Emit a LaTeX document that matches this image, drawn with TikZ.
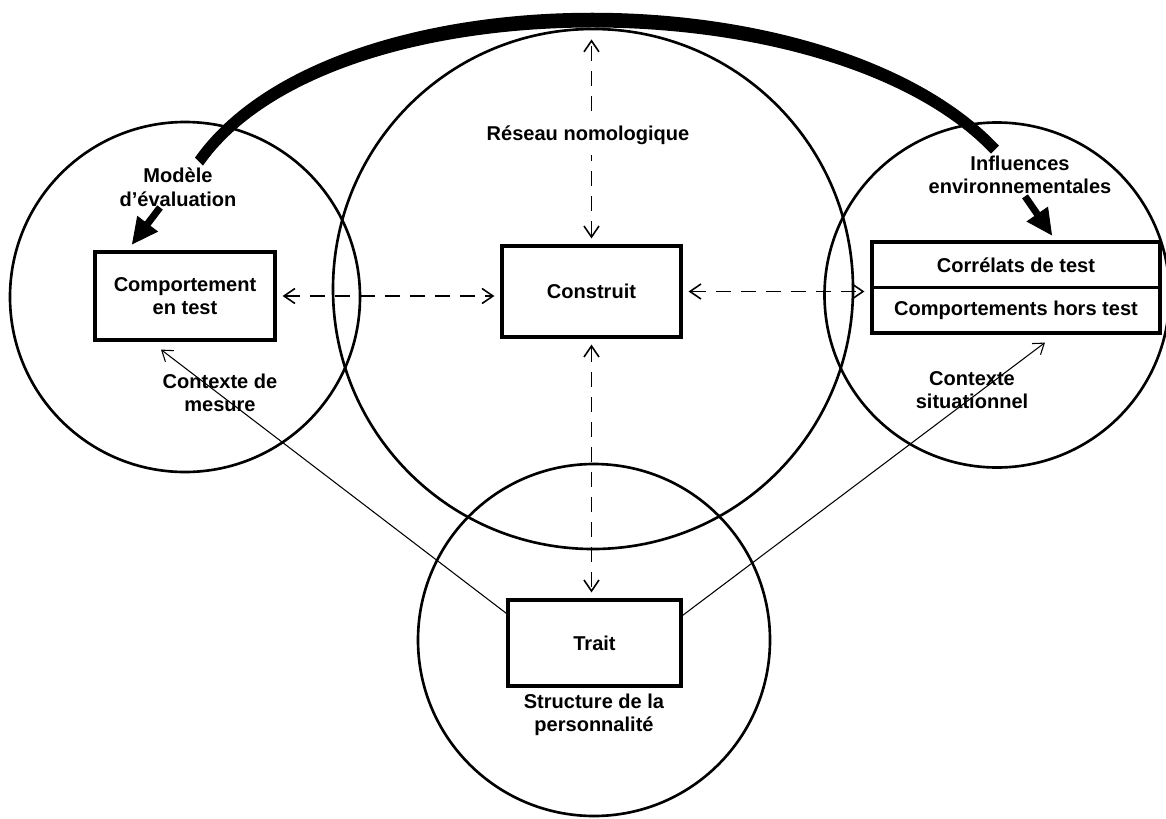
\documentclass[tikz,border=0pt]{standalone}
\usepackage{fontspec}
\setmainfont{Liberation Sans}
\usetikzlibrary{arrows.meta, positioning, calc}

\begin{document}
\begin{tikzpicture}[
    every node/.style={font=\bfseries\fontsize{11.4}{13.4}\selectfont, align=center},
    zone/.style={circle, draw, line width=1.5pt, minimum size=#1, inner sep=0pt},
    box/.style={draw, line width=1.8pt, inner sep=0pt},
    link/.style={line width=0.9pt, dash pattern=on 0.3cm off 0.2cm,
        {Straight Barb[length=0.22cm,width=0.3cm]}-{Straight Barb[length=0.22cm,width=0.3cm]},
        shorten <=0.12cm, shorten >=0.12cm},
    cue/.style={line width=0.6pt, -{Straight Barb[length=0.2cm,width=0.28cm]}},
    heavy/.style={line width=0.14cm, -{Triangle[length=0.52cm,width=0.52cm,line width=0.5pt]}}
]
    \useasboundingbox (0,0) rectangle (23.32,-16.36);

    % Circles
    \node[zone=7cm] (cleft) at (3.70,-5.94) {};
    \node[zone=10.4cm] (ccenter) at (11.86,-5.78) {};
    \node[zone=6.9cm] (cright) at (19.94,-5.90) {};
    \node[zone=7.04cm] (cbottom) at (11.88,-12.80) {};

    % Boxes
    \node[box, minimum width=3.6cm, minimum height=1.76cm] (comport) at (3.70,-5.92) {Comportement\\en test};
    \node[box, minimum width=3.58cm, minimum height=1.82cm] (construit) at (11.83,-5.83) {Construit};
    \node[box, minimum width=5.76cm, minimum height=0.91cm] (correlats) at (20.32,-5.295) {Corrélats de test};
    \node[box, minimum width=5.76cm, minimum height=0.91cm] (hors) at (20.32,-6.205) {Comportements hors test};
    \node[box, minimum width=3.46cm, minimum height=1.72cm] (trait) at (11.89,-12.86) {Trait};

    % Labels
    \node (modele) at (3.56,-3.74) {Modèle\\d'évaluation};
    \node (influences) at (20.40,-3.50) {Influences\\environnementales};
    \node (mesure) at (4.40,-7.86) {Contexte de\\mesure};
    \node (situation) at (19.44,-7.80) {Contexte\\situationnel};
    \node (structure) at (11.88,-14.30) {Structure de la\\personnalité};

    % Dashed links around the construct
    \coordinate (apex) at ($(construit.north)+(0,4.22)$);
    \draw[link] (construit.north) -- (apex);
    \node[fill=white, inner xsep=2pt, inner ysep=0.22cm] (reseau) at (11.76,-2.70) {Réseau nomologique};
    \draw[link] (comport.east) -- (construit.west |- comport.east);
    \draw[link] (construit.east) -- (construit.east -| hors.north west);
    \draw[link] (construit.south) -- (construit.south |- trait.north);

    % Contexts
    \draw[cue] ([yshift=-0.3cm]trait.north west) -- ([xshift=-0.48cm,yshift=-0.16cm]comport.south);
    \draw[cue] ([yshift=-0.34cm]trait.north east) -- ([xshift=0.58cm,yshift=-0.16cm]hors.south);

    % Heavy influence arc (tapered band)
    \fill ($(modele.north)+(0.34,0.08)$) .. controls (6.6,0.67) and (16.6,0.67) .. ($(influences.north)+(-0.42,0.08)$)
        -- ($(influences.north)+(-0.58,-0.08)$) .. controls (16.6,0.33) and (6.6,0.33) .. ($(modele.north)+(0.5,-0.08)$) -- cycle;
    \draw[heavy] ([xshift=-0.36cm,yshift=0.1cm]modele.south) -- ([xshift=-1.06cm,yshift=0.12cm]comport.north);
    \draw[heavy] ([xshift=0.1cm,yshift=0.08cm]influences.south) -- ([xshift=0.72cm,yshift=0.1cm]correlats.north);
\end{tikzpicture}
\end{document}
